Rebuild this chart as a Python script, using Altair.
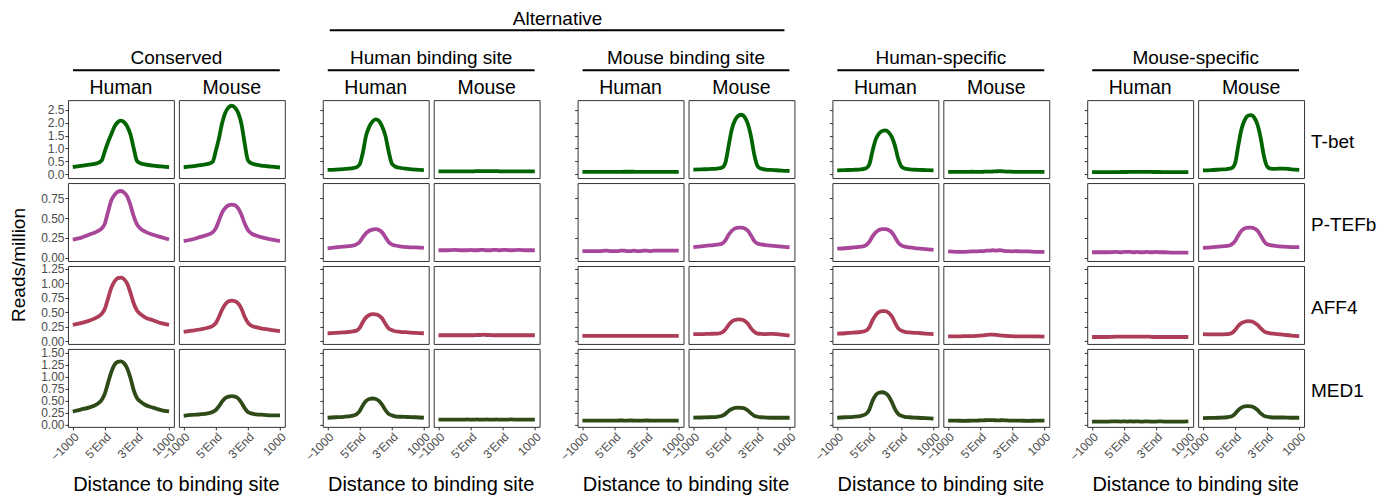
import json
import altair as alt
import pandas as pd

# ---------------- data ----------------
X_POS = [0.0, 0.25, 0.5, 0.75, 0.9, 1.0, 1.1, 1.2, 1.3, 1.4, 1.5, 1.6, 1.7, 1.8, 1.9, 2.0, 2.1, 2.25, 2.5, 2.75, 3.0]
X_TICKS = [0, 1, 2, 3]
X_LABELS = ["\u22121000", "5'End", "3'End", "1000"]
SUPER_TITLE = "Alternative"
GROUPS = ["Conserved", "Human binding site", "Mouse binding site", "Human-specific", "Mouse-specific"]
SPECIES = ["Human", "Mouse"]
FACTORS = ["T-bet", "P-TEFb", "AFF4", "MED1"]
COLORS = ["#006400", "#A8479A", "#AE3D58", "#2E4A17"]
Y_TITLE = "Reads/million"
X_TITLE = "Distance to binding site"

Y_TICKS = [
    [0.0, 0.5, 1.0, 1.5, 2.0, 2.5],
    [0.0, 0.25, 0.5, 0.75],
    [0.0, 0.25, 0.5, 0.75, 1.0, 1.25],
    [0.0, 0.25, 0.5, 0.75, 1.0, 1.25, 1.5],
]
Y_FORMATS = [".1f", ".2f", ".2f", ".2f"]
Y_DOMAINS = [[-0.15, 2.88], [-0.04, 0.94], [-0.05, 1.30], [-0.04, 1.58]]

# order of curves per factor: Conserved H/M, Human binding site H/M, Mouse binding site H/M,
# Human-specific H/M, Mouse-specific H/M
TBET = [
    [0.28, 0.32, 0.37, 0.42, 0.53, 0.90, 1.25, 1.55, 1.85, 2.02, 2.08, 2.02, 1.85, 1.53, 1.00, 0.52, 0.43, 0.38, 0.33, 0.30, 0.27],
    [0.27, 0.30, 0.35, 0.40, 0.48, 0.90, 1.40, 2.00, 2.40, 2.60, 2.66, 2.58, 2.38, 1.95, 1.20, 0.55, 0.43, 0.37, 0.32, 0.29, 0.26],
    [0.17, 0.18, 0.20, 0.23, 0.27, 0.38, 0.85, 1.50, 1.85, 2.05, 2.13, 2.07, 1.85, 1.50, 0.90, 0.42, 0.30, 0.25, 0.21, 0.18, 0.16],
    [0.11, 0.11, 0.11, 0.11, 0.11, 0.11, 0.11, 0.12, 0.12, 0.12, 0.12, 0.12, 0.12, 0.12, 0.11, 0.11, 0.11, 0.11, 0.11, 0.11, 0.11],
    [0.09, 0.09, 0.09, 0.09, 0.09, 0.09, 0.09, 0.09, 0.095, 0.095, 0.095, 0.095, 0.09, 0.09, 0.09, 0.09, 0.09, 0.09, 0.09, 0.09, 0.09],
    [0.18, 0.19, 0.20, 0.22, 0.26, 0.45, 1.10, 1.75, 2.10, 2.27, 2.31, 2.22, 1.95, 1.45, 0.75, 0.32, 0.22, 0.18, 0.16, 0.14, 0.13],
    [0.15, 0.16, 0.17, 0.19, 0.23, 0.38, 0.90, 1.35, 1.58, 1.68, 1.70, 1.63, 1.45, 1.10, 0.60, 0.30, 0.22, 0.19, 0.17, 0.16, 0.15],
    [0.09, 0.09, 0.09, 0.095, 0.09, 0.09, 0.095, 0.10, 0.10, 0.105, 0.11, 0.12, 0.11, 0.10, 0.10, 0.095, 0.09, 0.09, 0.09, 0.09, 0.09],
    [0.08, 0.08, 0.08, 0.08, 0.085, 0.085, 0.085, 0.09, 0.09, 0.09, 0.09, 0.09, 0.09, 0.09, 0.085, 0.085, 0.085, 0.08, 0.08, 0.08, 0.08],
    [0.15, 0.16, 0.18, 0.20, 0.24, 0.42, 1.10, 1.75, 2.10, 2.27, 2.30, 2.20, 1.92, 1.40, 0.70, 0.30, 0.22, 0.21, 0.22, 0.19, 0.17],
]
PTEFB = [
    [0.23, 0.25, 0.29, 0.33, 0.37, 0.43, 0.58, 0.72, 0.79, 0.83, 0.84, 0.82, 0.77, 0.66, 0.52, 0.42, 0.37, 0.33, 0.29, 0.26, 0.23],
    [0.21, 0.23, 0.26, 0.29, 0.32, 0.37, 0.47, 0.57, 0.63, 0.66, 0.67, 0.66, 0.62, 0.54, 0.43, 0.35, 0.31, 0.28, 0.25, 0.23, 0.21],
    [0.12, 0.13, 0.14, 0.15, 0.17, 0.20, 0.26, 0.31, 0.34, 0.355, 0.36, 0.35, 0.32, 0.26, 0.20, 0.17, 0.155, 0.145, 0.135, 0.13, 0.125],
    [0.095, 0.095, 0.10, 0.095, 0.095, 0.10, 0.095, 0.095, 0.10, 0.10, 0.095, 0.095, 0.10, 0.10, 0.095, 0.10, 0.10, 0.095, 0.10, 0.095, 0.095],
    [0.085, 0.085, 0.085, 0.09, 0.085, 0.085, 0.085, 0.09, 0.09, 0.085, 0.085, 0.09, 0.085, 0.085, 0.09, 0.09, 0.085, 0.09, 0.09, 0.09, 0.09],
    [0.135, 0.145, 0.155, 0.165, 0.18, 0.22, 0.29, 0.34, 0.37, 0.38, 0.38, 0.37, 0.34, 0.28, 0.21, 0.18, 0.17, 0.16, 0.15, 0.14, 0.13],
    [0.115, 0.12, 0.13, 0.14, 0.16, 0.20, 0.27, 0.32, 0.35, 0.36, 0.36, 0.35, 0.32, 0.26, 0.19, 0.155, 0.14, 0.13, 0.12, 0.11, 0.10],
    [0.08, 0.075, 0.075, 0.08, 0.08, 0.085, 0.085, 0.09, 0.09, 0.095, 0.09, 0.095, 0.09, 0.085, 0.085, 0.08, 0.085, 0.08, 0.08, 0.075, 0.075],
    [0.07, 0.07, 0.07, 0.075, 0.07, 0.075, 0.075, 0.075, 0.07, 0.075, 0.07, 0.07, 0.075, 0.07, 0.07, 0.075, 0.07, 0.07, 0.065, 0.065, 0.065],
    [0.125, 0.13, 0.14, 0.15, 0.17, 0.21, 0.28, 0.34, 0.37, 0.38, 0.38, 0.37, 0.34, 0.28, 0.21, 0.17, 0.16, 0.15, 0.14, 0.135, 0.135],
]
AFF4 = [
    [0.28, 0.31, 0.35, 0.41, 0.47, 0.56, 0.74, 0.92, 1.03, 1.09, 1.10, 1.07, 0.99, 0.83, 0.65, 0.53, 0.47, 0.41, 0.36, 0.31, 0.28],
    [0.16, 0.18, 0.20, 0.23, 0.26, 0.31, 0.42, 0.55, 0.64, 0.69, 0.70, 0.69, 0.65, 0.56, 0.42, 0.32, 0.27, 0.24, 0.21, 0.19, 0.17],
    [0.135, 0.14, 0.15, 0.165, 0.18, 0.23, 0.33, 0.41, 0.45, 0.465, 0.46, 0.44, 0.39, 0.30, 0.22, 0.19, 0.17, 0.16, 0.15, 0.14, 0.135],
    [0.10, 0.10, 0.10, 0.10, 0.10, 0.10, 0.10, 0.105, 0.105, 0.11, 0.105, 0.105, 0.10, 0.10, 0.10, 0.10, 0.10, 0.10, 0.10, 0.10, 0.10],
    [0.09, 0.09, 0.09, 0.09, 0.09, 0.09, 0.09, 0.09, 0.09, 0.09, 0.09, 0.09, 0.09, 0.09, 0.09, 0.09, 0.09, 0.09, 0.09, 0.09, 0.09],
    [0.12, 0.12, 0.125, 0.13, 0.15, 0.20, 0.28, 0.34, 0.365, 0.375, 0.37, 0.35, 0.30, 0.22, 0.16, 0.13, 0.125, 0.12, 0.125, 0.11, 0.095],
    [0.13, 0.135, 0.145, 0.16, 0.18, 0.24, 0.36, 0.45, 0.50, 0.52, 0.52, 0.49, 0.43, 0.32, 0.22, 0.18, 0.16, 0.15, 0.14, 0.13, 0.12],
    [0.08, 0.08, 0.085, 0.085, 0.09, 0.095, 0.10, 0.105, 0.11, 0.11, 0.105, 0.10, 0.095, 0.09, 0.085, 0.085, 0.08, 0.08, 0.08, 0.08, 0.075],
    [0.07, 0.07, 0.07, 0.075, 0.075, 0.075, 0.075, 0.075, 0.075, 0.075, 0.075, 0.075, 0.075, 0.075, 0.07, 0.07, 0.07, 0.07, 0.07, 0.07, 0.07],
    [0.12, 0.115, 0.115, 0.12, 0.14, 0.19, 0.26, 0.31, 0.335, 0.345, 0.34, 0.32, 0.28, 0.22, 0.17, 0.145, 0.135, 0.125, 0.11, 0.095, 0.085],
]
MED1 = [
    [0.28, 0.32, 0.36, 0.43, 0.52, 0.65, 0.88, 1.10, 1.25, 1.31, 1.32, 1.28, 1.17, 0.97, 0.72, 0.56, 0.49, 0.42, 0.36, 0.31, 0.28],
    [0.19, 0.21, 0.22, 0.24, 0.27, 0.31, 0.39, 0.49, 0.56, 0.59, 0.60, 0.59, 0.55, 0.46, 0.35, 0.27, 0.24, 0.22, 0.21, 0.20, 0.20],
    [0.15, 0.16, 0.17, 0.19, 0.22, 0.29, 0.41, 0.50, 0.54, 0.55, 0.54, 0.50, 0.42, 0.31, 0.23, 0.20, 0.18, 0.17, 0.165, 0.16, 0.15],
    [0.11, 0.11, 0.11, 0.11, 0.115, 0.11, 0.11, 0.115, 0.11, 0.11, 0.115, 0.11, 0.11, 0.115, 0.11, 0.11, 0.11, 0.115, 0.11, 0.11, 0.11],
    [0.09, 0.09, 0.09, 0.09, 0.09, 0.09, 0.09, 0.095, 0.09, 0.09, 0.095, 0.09, 0.09, 0.09, 0.09, 0.095, 0.09, 0.09, 0.09, 0.09, 0.09],
    [0.15, 0.155, 0.16, 0.17, 0.19, 0.23, 0.29, 0.33, 0.355, 0.36, 0.355, 0.34, 0.30, 0.24, 0.19, 0.17, 0.16, 0.155, 0.15, 0.15, 0.15],
    [0.15, 0.16, 0.17, 0.19, 0.23, 0.32, 0.50, 0.62, 0.67, 0.68, 0.66, 0.60, 0.48, 0.33, 0.23, 0.19, 0.17, 0.16, 0.15, 0.14, 0.13],
    [0.09, 0.09, 0.085, 0.09, 0.09, 0.095, 0.095, 0.10, 0.10, 0.10, 0.095, 0.095, 0.10, 0.095, 0.09, 0.09, 0.09, 0.09, 0.085, 0.09, 0.09],
    [0.07, 0.07, 0.07, 0.075, 0.07, 0.075, 0.07, 0.075, 0.07, 0.075, 0.07, 0.07, 0.075, 0.07, 0.07, 0.07, 0.075, 0.07, 0.07, 0.07, 0.075],
    [0.14, 0.145, 0.15, 0.16, 0.18, 0.23, 0.31, 0.36, 0.385, 0.39, 0.385, 0.36, 0.31, 0.24, 0.19, 0.17, 0.16, 0.155, 0.155, 0.15, 0.15],
]
CURVES = [TBET, PTEFB, AFF4, MED1]

# ---------------- layout ----------------
W, H = 106, 78
GAP_W = 28
HEADER_H = 87
FONT = "Liberation Sans"
LABEL_EXPR = "[" + ",".join(json.dumps(s, ensure_ascii=False) for s in X_LABELS) + "][datum.value]"
NO_BORDER = alt.ViewBackground(strokeOpacity=0)


def text_layer(label, x, y, size, **kw):
    return alt.Chart(pd.DataFrame({"t": [label]})).mark_text(
        fontSize=size, color="black", font=FONT, **kw
    ).encode(text="t:N", x=alt.value(x), y=alt.value(y))


def panel(fi, gi, si):
    df = pd.DataFrame({"x": X_POS, "y": CURVES[fi][2 * gi + si]})
    bottom = fi == len(FACTORS) - 1
    if bottom:
        xaxis = alt.Axis(values=X_TICKS, labelExpr=LABEL_EXPR, labelAngle=-45, labelFontSize=12,
                         labelColor="#4D4D4D", tickColor="#333333", tickSize=3, domain=False,
                         grid=False, title=None, labelPadding=1, labelOverlap=False, labelFlush=False)
    else:
        xaxis = None
    if si == 0:
        yaxis = alt.Axis(values=Y_TICKS[fi], format=Y_FORMATS[fi], labels=(gi == 0), ticks=True,
                         tickSize=3, tickColor="#333333", domain=False, grid=False, title=None,
                         labelFontSize=12, labelColor="#4D4D4D", labelPadding=1)
    else:
        yaxis = None
    line = alt.Chart(df).mark_line(strokeWidth=3.8, color=COLORS[fi], interpolate="monotone").encode(
        x=alt.X("x:Q", scale=alt.Scale(domain=[-0.15, 3.15], nice=False, zero=False), axis=xaxis),
        y=alt.Y("y:Q", scale=alt.Scale(domain=Y_DOMAINS[fi], nice=False, zero=False), axis=yaxis),
    )
    layers = [line]
    if fi == 1 and gi == 0 and si == 0:
        layers.append(text_layer(Y_TITLE, -49, 82, 19, angle=270, align="center", baseline="middle"))
    if bottom and si == 0:
        layers.append(text_layer(X_TITLE, W + 2.5, H + 58, 20, align="center", baseline="middle"))
    if gi == len(GROUPS) - 1 and si == 1:
        layers.append(text_layer(FACTORS[fi], W + 7, H / 2 + 3, 19, align="left", baseline="middle"))
    return alt.layer(*layers).properties(width=W, height=H)


def header(gi, si):
    layers = [text_layer(SPECIES[si], W / 2, 86, 19.5, align="center", baseline="alphabetic")]
    if si == 0:
        layers.append(text_layer(GROUPS[gi], W + 2.5, 56, 19, align="center", baseline="alphabetic"))
        layers.append(alt.Chart(pd.DataFrame({"t": [GROUPS[gi]]})).mark_rule(color="black", strokeWidth=2)
                      .encode(x=alt.value(5), x2=alt.value(2 * W), y=alt.value(62)))
        if gi == 1:
            layers.append(text_layer(SUPER_TITLE, 235, 2, 19, align="center", baseline="top"))
            layers.append(alt.Chart(pd.DataFrame({"t": [SUPER_TITLE]})).mark_rule(color="black", strokeWidth=2)
                          .encode(x=alt.value(7), x2=alt.value(462), y=alt.value(22)))
    return alt.layer(*layers).properties(width=W, height=HEADER_H, view=NO_BORDER)


def spacer(h):
    return alt.Chart(pd.DataFrame({"t": [""]})).mark_text(baseline="middle", fontSize=1).encode(
        text="t:N", x=alt.value(GAP_W / 2), y=alt.value(h / 2)
    ).properties(width=GAP_W, height=h, view=NO_BORDER)


cells = []
for r in range(len(FACTORS) + 1):
    for gi in range(len(GROUPS)):
        for si in range(len(SPECIES)):
            cells.append(header(gi, si) if r == 0 else panel(r - 1, gi, si))
        if gi < len(GROUPS) - 1:
            cells.append(spacer(HEADER_H if r == 0 else H))

chart = alt.concat(
    *cells, columns=len(GROUPS) * 3 - 1, spacing=5, bounds="flush"
).properties(
    padding={"left": 1, "top": 0, "right": 5, "bottom": 0}
).configure(
    font=FONT
).configure_view(
    stroke="#333333", strokeWidth=1
)

chart.save("out.html", embed_options={"renderer": "svg", "actions": False})
